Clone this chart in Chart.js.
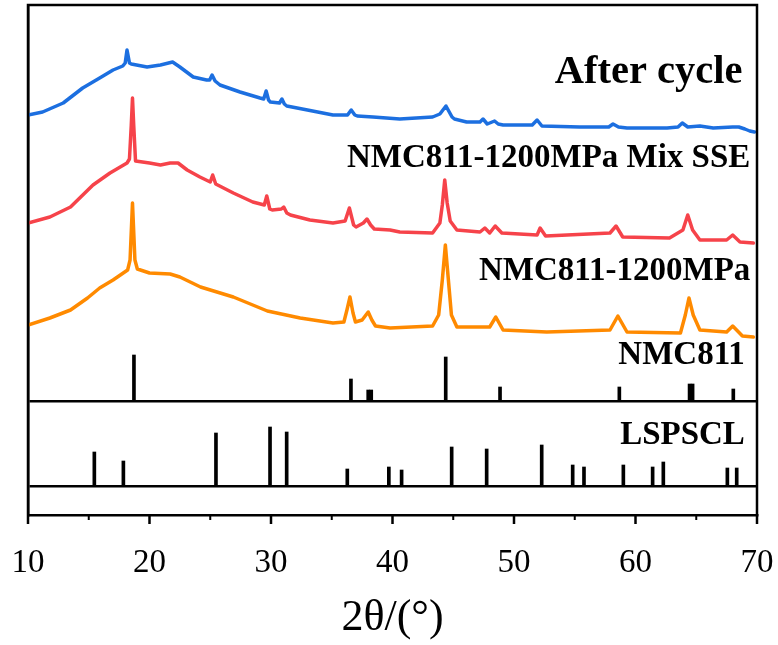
<!DOCTYPE html>
<html>
<head>
<meta charset="utf-8">
<script src="https://cdn.jsdelivr.net/npm/chart.js@4.4.1/dist/chart.umd.min.js"></script>
<style>
  html, body { margin: 0; padding: 0; background: #ffffff; }
  #wrap { width: 778px; height: 645px; }
</style>
</head>
<body>
<div id="wrap"><canvas id="c" width="778" height="645"></canvas></div>
<script>
// ---- data (2θ in degrees, intensity in arbitrary units, stacked offsets included) ----
const xTicks = [10, 20, 30, 40, 50, 60, 70];
const minorTicks = [15, 25, 35, 45, 55, 65];

const afterCycleX = [10, 11.2, 12.9, 14.5, 15.9, 17.0, 17.8, 18.0, 18.15, 18.35, 18.5, 19.8, 20.9, 21.9, 22.5, 23.6, 24.7, 24.95, 25.15, 25.4, 25.8, 27.45, 29.1, 29.4, 29.6, 29.8, 29.95, 30.7, 30.9, 31.1, 31.3, 33.0, 35.1, 36.3, 36.6, 36.9, 37.1, 38.4, 40.6, 43.3, 43.9, 44.4, 44.9, 45.1, 46.1, 47.2, 47.45, 47.8, 48.4, 48.7, 49.1, 51.5, 51.9, 52.3, 55.4, 57.8, 58.15, 58.6, 59.3, 62.6, 63.5, 63.85, 64.3, 65.3, 66.4, 68.0, 68.5, 69.0, 69.4, 69.8];
const afterCycleY = [400, 403, 412, 427, 437, 445, 449, 452, 465, 452, 451, 448, 450, 453, 448, 438, 435, 435, 440, 434, 430, 423, 417, 416, 424, 415, 413, 412, 416, 411, 409, 405, 400, 400, 405, 400, 399, 398, 396, 398, 401, 409, 398, 396, 393, 393, 396, 391, 394, 391, 390, 390, 395, 389, 388, 388, 391, 388, 387, 387, 388, 392, 388, 389, 387, 388, 388, 386, 384, 383];

const mixSseX = [10, 11.8, 13.5, 15.35, 16.75, 18.15, 18.35, 18.5, 18.6, 18.7, 18.85, 20.0, 20.9, 21.7, 22.35, 23.1, 24.15, 25.0, 25.2, 25.45, 26.9, 28.5, 29.45, 29.65, 29.9, 30.1, 30.85, 31.05, 31.3, 31.6, 33.2, 35.1, 36.1, 36.45, 36.8, 37.0, 37.6, 37.9, 38.2, 38.5, 39.8, 40.6, 43.3, 43.9, 44.1, 44.3, 44.5, 44.75, 45.3, 47.2, 47.6, 48.0, 48.45, 49.0, 51.9, 52.15, 52.6, 57.9, 58.4, 58.95, 62.8, 63.9, 64.3, 64.7, 65.3, 67.5, 68.0, 68.6, 69.7];
const mixSseY = [292, 298, 308, 330, 342, 352, 356, 390, 417, 390, 354, 352, 350, 352, 352, 345, 338, 333, 340, 331, 322, 313, 310, 319, 306, 305, 306, 308, 302, 300, 295, 292, 294, 307, 290, 288, 292, 296, 290, 286, 285, 283, 282, 292, 310, 335, 312, 294, 285, 283, 287, 282, 289, 282, 280, 287, 279, 282, 289, 278, 277, 285, 300, 285, 275, 275, 280, 273, 272];

const pressedX = [10, 11.8, 13.5, 14.9, 15.9, 17.0, 18.2, 18.4, 18.6, 18.8, 19.0, 20.0, 21.7, 22.5, 24.2, 26.9, 29.7, 32.4, 35.1, 36.0, 36.25, 36.5, 36.75, 36.95, 37.5, 37.75, 38.0, 38.3, 38.6, 39.8, 43.3, 43.8, 44.1, 44.35, 44.6, 44.85, 45.3, 48.0, 48.5, 49.1, 52.7, 57.9, 58.55, 59.3, 63.7, 64.1, 64.4, 64.75, 65.3, 67.5, 68.0, 68.8, 69.7];
const pressedY = [190, 197, 205, 217, 227, 235, 245, 255, 312, 255, 246, 242, 241, 238, 228, 218, 204, 197, 192, 193, 205, 218, 202, 193, 195, 199, 203, 195, 189, 187, 189, 200, 235, 270, 235, 200, 188, 188, 198, 185, 183, 185, 199, 183, 182, 200, 217, 200, 185, 183, 189, 179, 178];

const nmcBase = 114;
const nmcPos = [18.72, 36.58, 38.0, 38.25, 44.38, 48.85, 58.67, 64.45, 64.7, 68.05];
const nmcInt = [46, 22, 11, 11, 44, 14, 14, 17, 17, 12];

const lspBase = 29;
const lspPos = [15.46, 17.85, 25.47, 29.92, 31.29, 36.28, 39.7, 40.75, 44.87, 47.75, 52.28, 54.83, 55.76, 59.0, 61.41, 62.29, 67.56, 68.33];
const lspInt = [34, 25, 53, 59, 54, 17, 19, 16, 39, 37, 41, 21, 19, 21, 19, 24, 18, 18];

const dividers = [lspBase, nmcBase];

const seriesNames = ['After cycle', 'NMC811-1200MPa Mix SSE', 'NMC811-1200MPa', 'NMC811', 'LSPSCL'];

// ---- build ----
const toXY = (xs, ys) => xs.map((x, i) => ({ x: x, y: ys[i] }));
const toSticks = (pos, ints, base) => pos.map((p, i) => ({ x: p, y: [base, base + ints[i]] }));

const SERIF = "'Liberation Serif', 'Times New Roman', serif";

const labelPlugin = {
  id: 'curveLabels',
  afterDatasetsDraw(chart) {
    const { ctx, scales } = chart;
    const xs = scales.x, ys = scales.y;
    const items = [
      { t: seriesNames[0], x: 68.8, y: 442, size: 40.5 },
      { t: seriesNames[1], x: 69.45, y: 357, size: 33 },
      { t: seriesNames[2], x: 69.45, y: 244, size: 33 },
      { t: seriesNames[3], x: 69.0, y: 160, size: 33 },
      { t: seriesNames[4], x: 69.0, y: 80, size: 33 }
    ];
    ctx.save();
    ctx.fillStyle = '#000';
    ctx.textAlign = 'right';
    ctx.textBaseline = 'middle';
    items.forEach(it => {
      ctx.font = 'bold ' + it.size + 'px ' + SERIF;
      ctx.fillText(it.t, xs.getPixelForValue(it.x), ys.getPixelForValue(it.y));
    });
    ctx.restore();
  }
};

const framePlugin = {
  id: 'frame',
  afterDraw(chart) {
    const { ctx, chartArea, scales } = chart;
    ctx.save();
    ctx.strokeStyle = '#000';
    ctx.lineWidth = 2.5;
    ctx.beginPath();
    ctx.moveTo(chartArea.left, chartArea.bottom);
    ctx.lineTo(chartArea.left, chartArea.top);
    ctx.lineTo(chartArea.right, chartArea.top);
    ctx.lineTo(chartArea.right, chartArea.bottom);
    ctx.stroke();
    // tick marks (major and minor) pointing out of the bottom axis
    const drawTick = (v, len, w) => {
      const px = scales.x.getPixelForValue(v);
      ctx.lineWidth = w;
      ctx.beginPath();
      ctx.moveTo(px, chartArea.bottom);
      ctx.lineTo(px, chartArea.bottom + len);
      ctx.stroke();
    };
    xTicks.forEach(v => drawTick(v, 9, 2.5));
    minorTicks.forEach(v => drawTick(v, 5, 2));
    ctx.restore();
  }
};

const lineDs = (label, xs, ys, color) => ({
  type: 'line', label: label, data: toXY(xs, ys),
  borderColor: color, borderWidth: 3.5, pointRadius: 0, tension: 0,
  fill: false, borderJoinStyle: 'round', borderCapStyle: 'round'
});

const stickDs = (label, pos, ints, base) => ({
  type: 'bar', label: label, data: toSticks(pos, ints, base),
  backgroundColor: '#000', borderWidth: 0, barThickness: 3, grouped: false
});

new Chart(document.getElementById('c'), {
  type: 'line',
  data: {
    datasets: [
      lineDs(seriesNames[0], afterCycleX, afterCycleY, '#1c6fe0'),
      lineDs(seriesNames[1], mixSseX, mixSseY, '#f6434a'),
      lineDs(seriesNames[2], pressedX, pressedY, '#ff8a00'),
      stickDs(seriesNames[3], nmcPos, nmcInt, nmcBase),
      stickDs(seriesNames[4], lspPos, lspInt, lspBase)
    ]
  },
  options: {
    responsive: false,
    devicePixelRatio: 1,
    animation: false,
    layout: { padding: { left: 28, right: 21, top: 5, bottom: 0 } },
    plugins: { legend: { display: false }, tooltip: { enabled: false } },
    scales: {
      x: {
        type: 'linear', min: 10, max: 70, offset: false,
        afterBuildTicks: s => { s.ticks = xTicks.map(v => ({ value: v })); },
        afterFit: s => { s.height = 130; s.paddingLeft = 0; s.paddingRight = 0; },
        ticks: { font: { family: SERIF, size: 33 }, color: '#000', padding: 29, maxRotation: 0 },
        grid: { drawOnChartArea: false, drawTicks: false, color: '#000', lineWidth: 2.5 },
        border: { display: true, color: '#000', width: 2.5 },
        title: { display: true, text: '2θ/(°)', font: { family: SERIF, size: 44 }, color: '#000', padding: { top: 14, bottom: 0 } }
      },
      y: {
        type: 'linear', min: 0, max: 510,
        afterBuildTicks: s => { s.ticks = dividers.map(v => ({ value: v })); },
        afterFit: s => { s.width = 0; },
        ticks: { display: false },
        grid: { drawTicks: false, color: '#000', lineWidth: 2.5 },
        border: { display: true, color: '#000', width: 2.5 }
      }
    }
  },
  plugins: [labelPlugin, framePlugin]
});
</script>
</body>
</html>
